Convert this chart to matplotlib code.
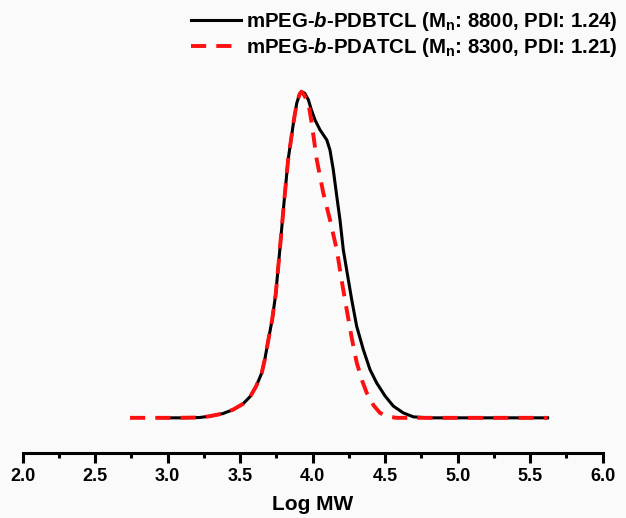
import numpy as np
import matplotlib
matplotlib.use('Agg')
import matplotlib.pyplot as plt

plt.rcParams['font.family'] = 'Liberation Sans'
plt.rcParams['font.weight'] = 'bold'
plt.rcParams['mathtext.fontset'] = 'custom'
plt.rcParams['mathtext.rm'] = 'Liberation Sans:bold'
plt.rcParams['mathtext.bf'] = 'Liberation Sans:bold'
plt.rcParams['mathtext.it'] = 'Liberation Sans:bold:italic'

# GPC traces (Log MW, normalised signal)
logmw_pdbtcl = [2.96, 3.10, 3.22, 3.29, 3.38, 3.45, 3.52, 3.57, 3.61, 3.648, 3.67, 3.694, 3.72,
                3.745, 3.77, 3.80, 3.83, 3.87, 3.89, 3.91, 3.924, 3.945, 3.97, 3.99, 4.016, 4.05,
                4.097, 4.119, 4.142, 4.166, 4.188, 4.211, 4.234, 4.269, 4.303, 4.349, 4.395,
                4.441, 4.499, 4.556, 4.625, 4.694, 4.80, 5.0, 5.3, 5.62]
sig_pdbtcl = [0.0, 0.0, 0.001, 0.005, 0.013, 0.025, 0.043, 0.066, 0.097, 0.137, 0.18, 0.239, 0.30,
              0.38, 0.50, 0.65, 0.79, 0.913, 0.965, 0.993, 1.0, 0.995, 0.975, 0.945, 0.913, 0.883,
              0.852, 0.821, 0.760, 0.679, 0.607, 0.515, 0.454, 0.362, 0.281, 0.209, 0.148,
              0.107, 0.067, 0.036, 0.015, 0.003, 0.0, 0.0, 0.0, 0.0]

logmw_pdatcl = [2.74, 2.90, 3.05, 3.22, 3.29, 3.38, 3.45, 3.52, 3.57, 3.61, 3.648, 3.67, 3.694,
                3.72, 3.745, 3.77, 3.80, 3.83, 3.87, 3.89, 3.91, 3.922, 3.94, 3.97, 3.993, 4.028,
                4.073, 4.119, 4.166, 4.20, 4.235, 4.269, 4.303, 4.34, 4.372, 4.42, 4.464,
                4.52, 4.579, 4.80, 5.0, 5.3, 5.62]
sig_pdatcl = [0.0, 0.0, 0.0, 0.001, 0.005, 0.013, 0.025, 0.043, 0.066, 0.097, 0.137, 0.18, 0.239,
              0.30, 0.38, 0.50, 0.65, 0.79, 0.913, 0.965, 0.993, 1.0, 0.99, 0.965, 0.903, 0.791,
              0.689, 0.607, 0.515, 0.42, 0.33, 0.245, 0.17, 0.115, 0.077, 0.038, 0.015,
              0.004, 0.0, 0.0, 0.0, 0.0, 0.0]

label_pdbtcl = 'mPEG-$\\it{b}$-PDBTCL (M$_\\mathrm{n}$: 8800, PDI: 1.24)'
label_pdatcl = 'mPEG-$\\it{b}$-PDATCL (M$_\\mathrm{n}$: 8300, PDI: 1.21)'

bg = '#fafafa'
fig = plt.figure(figsize=(6.26, 5.18), dpi=100, facecolor=bg)
ax = fig.add_axes([0.0363, 0.126, 0.9265, 0.874], facecolor=bg)

ax.plot(logmw_pdbtcl, sig_pdbtcl, color='black', lw=2.2, label=label_pdbtcl)
ax.plot(logmw_pdatcl, sig_pdatcl, color='#ff1010', lw=2.8, linestyle=(0, (3.9, 2.6)),
        label=label_pdatcl)

ax.set_xlim(2.0, 6.0)
ax.set_ylim(-0.107, 1.281)
ax.set_xticks(np.arange(2.0, 6.01, 0.5))
ax.set_xticks(np.arange(2.25, 6.0, 0.5), minor=True)
ax.set_yticks([])
for s in ['left', 'right', 'top']:
    ax.spines[s].set_visible(False)
ax.spines['bottom'].set_linewidth(2.2)
ax.tick_params(axis='x', which='major', direction='out', length=7, width=2.2,
               labelsize=13, pad=4)
ax.tick_params(axis='x', which='minor', direction='out', length=3.5, width=2.2)
ax.set_xlabel('Log MW', fontsize=15, fontweight='bold', labelpad=7)

leg = fig.legend(loc='upper right', bbox_to_anchor=(626 / 626, 1 - 2 / 518), frameon=False,
                 fontsize=14.7, handlelength=2.45, handletextpad=0.25, labelspacing=0.15,
                 borderaxespad=0.0)

fig.savefig('out.png', dpi=100, facecolor=bg)
